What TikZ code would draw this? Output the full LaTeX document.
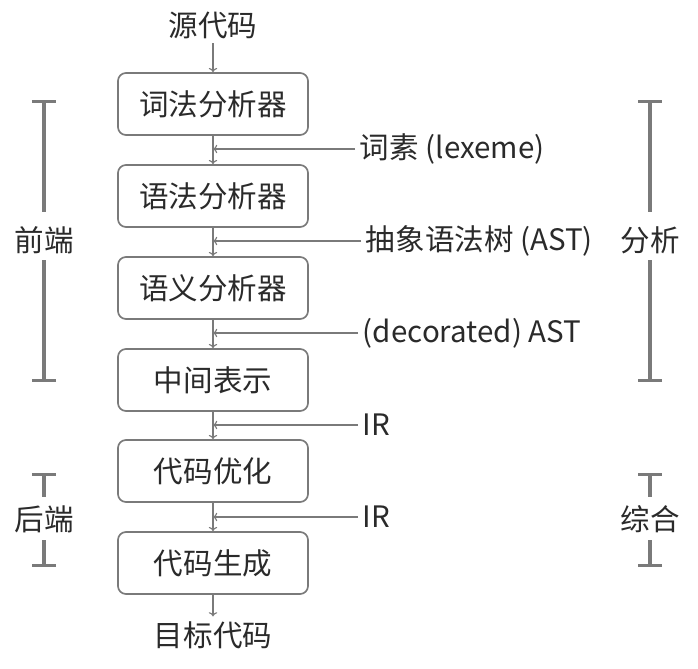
\documentclass[tikz,border=0pt]{standalone}
\usepackage{fontspec}
\setmainfont{Noto Sans CJK SC}
\usepackage{xcolor}
\usetikzlibrary{arrows.meta,calc}
\definecolor{ink}{HTML}{2A2A2A}
\definecolor{edge}{HTML}{7A7A7A}

\begin{document}
\begin{tikzpicture}[x=0.025cm,y=-0.025cm,
  every node/.style={font=\fontsize{21}{24}\selectfont,text=ink},
  stage/.style={draw=edge,line width=1.2pt,rounded corners=0.2cm,
    minimum width=4.75cm,minimum height=1.55cm},
  flow/.style={draw=edge,line width=0.8pt,-{To[length=3pt,width=6pt]}},
  brk/.style={draw=edge,line width=2.2pt},
  brkcap/.style={brk,{Bar[width=0.6cm]}-}]
\useasboundingbox (0,0) rectangle (698,669);
% the pipeline
\node (src) at (213,25) {源代码};
\node[stage] (lex) at (213,104) {词法分析器};
\node[stage] (syn) at (213,196) {语法分析器};
\node[stage] (sem) at (213,288) {语义分析器};
\node[stage] (ir) at (213,380) {中间表示};
\node[stage] (opt) at (213,471) {代码优化};
\node[stage] (gen) at (213,563) {代码生成};
\node (tgt) at (213,635) {目标代码};
\draw[flow] (src) -- (lex);
\draw[flow] (lex) -- (syn);
\draw[flow] (syn) -- (sem);
\draw[flow] (sem) -- (ir);
\draw[flow] (ir) -- (opt);
\draw[flow] (opt) -- (gen);
\draw[flow] (gen) -- (tgt);
% what flows between the stages
\coordinate (m1) at ($(lex.south)!0.5!(syn.north)$);
\coordinate (m2) at ($(syn.south)!0.5!(sem.north)$);
\coordinate (m3) at ($(sem.south)!0.5!(ir.north)$);
\coordinate (m4) at ($(ir.south)!0.5!(opt.north)$);
\coordinate (m5) at ($(opt.south)!0.5!(gen.north)$);
\node[anchor=west] (d1) at (355,149) {词素 (lexeme)};
\node[anchor=west] (d2) at (361,241) {抽象语法树 (AST)};
\node[anchor=west] (d3) at (358,333) {(decorated) AST};
\node[anchor=west] (d4) at (358,425) {IR};
\node[anchor=west] (d5) at (358,517) {IR};
\draw[flow] (d1.west) -- (d1.west -| m1);
\draw[flow] (d2.west) -- (d2.west -| m2);
\draw[flow] (d3.west) -- (d3.west -| m3);
\draw[flow] (d4.west) -- (d4.west -| m4);
\draw[flow] (d5.west) -- (d5.west -| m5);
% brackets
\node (fe) at (44,240) {前端};
\node (be) at (44,519) {后端};
\node (an) at (650,240) {分析};
\node (sy) at (650,519) {综合};
\draw[brkcap] (44,100) -- (44,212);
\draw[brkcap] (44,382) -- (44,260);
\draw[brkcap] (44,473) -- (44,497);
\draw[brkcap] (44,567) -- (44,540);
\draw[brkcap] (650,100) -- (650,212);
\draw[brkcap] (650,382) -- (650,260);
\draw[brkcap] (650,473) -- (650,497);
\draw[brkcap] (650,567) -- (650,540);
\end{tikzpicture}
\end{document}
